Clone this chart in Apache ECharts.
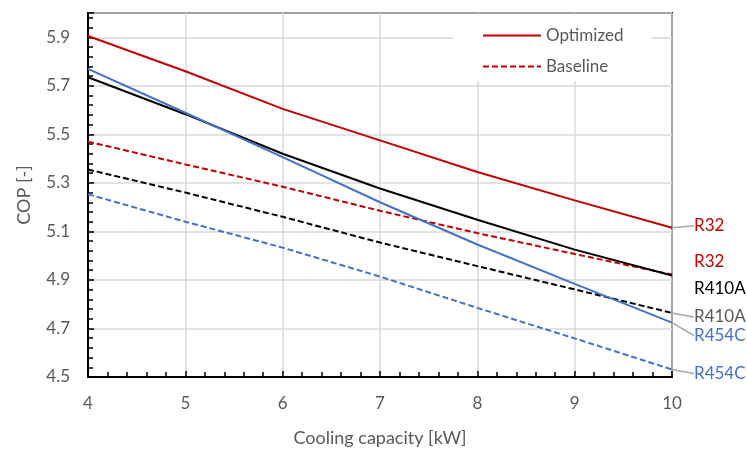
<!DOCTYPE html>
<html><head><meta charset="utf-8">
<script src="https://cdn.jsdelivr.net/npm/echarts@6/dist/echarts.min.js"></script>
<style>html,body{margin:0;padding:0;background:#fff}#c{width:747px;height:452px}</style>
</head><body><div id="c"></div>
<script>
// ---- data ----
const xValues = [4, 5, 6, 7, 8, 9, 10];
const optR32   = [5.905, 5.760, 5.605, 5.475, 5.345, 5.228, 5.115];
const optR410A = [5.735, 5.583, 5.420, 5.277, 5.148, 5.025, 4.918];
const optR454C = [5.770, 5.589, 5.406, 5.220, 5.046, 4.884, 4.724];
const baseR32   = [5.470, 5.376, 5.284, 5.185, 5.093, 5.007, 4.922];
const baseR410A = [5.355, 5.260, 5.160, 5.054, 4.957, 4.861, 4.764];
const baseR454C = [5.253, 5.140, 5.033, 4.914, 4.785, 4.659, 4.531];
const legendNames = ['Optimized', 'Baseline'];
const endLabels = ['R32', 'R32', 'R410A', 'R410A', 'R454C', 'R454C'];

const FONT = 'Lato, "Open Sans", sans-serif';
const RED = '#C00000', BLACK = '#000000', BLUE = '#4472C4', GREY = '#595959';

function mkSeries(name, vals, color, dashed, label, labelColor, dy, guide, z) {
  const last = vals.length - 1;
  return {
    name: name,
    type: 'line',
    z: z,
    showSymbol: true,
    symbol: 'circle',
    symbolSize: 0,
    smooth: false,
    animation: false,
    lineStyle: { color: color, width: 2, type: dashed ? [6, 3] : 'solid' },
    itemStyle: { color: color },
    emphasis: { disabled: true },
    data: vals.map((v, i) => i === last ? {
      value: [xValues[i], v],
      label: {
        show: true, position: 'right', distance: 18, formatter: label,
        color: labelColor, fontSize: 17, fontFamily: FONT, padding: [0, 0, 0, 4]
      },
      labelLine: { show: guide, length2: 10, lineStyle: { color: '#A6A6A6', width: 1.5 } }
    } : [xValues[i], v]),
    labelLayout: { dy: dy },
    labelLine: { show: guide, length2: 10, lineStyle: { color: '#A6A6A6', width: 1.5 } }
  };
}

const chart = echarts.init(document.getElementById('c'), null, { renderer: 'canvas' });
chart.setOption({
  animation: false,
  grid: { left: 88, right: 75, top: 13, bottom: 71, show: true, borderColor: '#000', borderWidth: 2, backgroundColor: 'transparent' },
  legend: {
    data: legendNames,
    orient: 'vertical',
    left: 453, top: 15,
    backgroundColor: '#fff',
    padding: [12, 28, 6, 29],
    itemGap: 14,
    itemWidth: 58, itemHeight: 14,
    itemStyle: { opacity: 0, borderWidth: 0 },
    textStyle: { color: GREY, fontSize: 17, fontFamily: FONT },
    selectedMode: false
  },
  xAxis: {
    type: 'value', min: 4, max: 10, interval: 1,
    name: 'Cooling capacity [kW]', nameLocation: 'middle', nameGap: 52,
    nameTextStyle: { color: GREY, fontSize: 18, fontFamily: FONT },
    axisLine: { show: true, onZero: false, lineStyle: { color: '#000', width: 2 } },
    axisTick: { show: true, inside: true, length: 6, lineStyle: { color: '#000', width: 1.5 } },
    minorTick: { show: true, splitNumber: 5, length: 5, lineStyle: { color: '#000', width: 1.5 } },
    splitLine: { show: true, lineStyle: { color: '#D9D9D9', width: 1.5 } },
    axisLabel: { color: GREY, fontSize: 17, fontFamily: FONT, margin: 18 }
  },
  yAxis: {
    type: 'value', min: 4.5, max: 6.0, interval: 0.2,
    name: 'COP [-]', nameLocation: 'middle', nameGap: 55, nameRotate: 90,
    nameTextStyle: { color: GREY, fontSize: 18, fontFamily: FONT },
    axisLine: { show: true, onZero: false, lineStyle: { color: '#000', width: 2 } },
    axisTick: { show: true, inside: true, length: 6, lineStyle: { color: '#000', width: 1.5 } },
    minorTick: { show: true, splitNumber: 5, length: 5, lineStyle: { color: '#000', width: 1.5 } },
    splitLine: { show: true, lineStyle: { color: '#D9D9D9', width: 1.5 } },
    axisLabel: { color: GREY, fontSize: 17, fontFamily: FONT, margin: 18, showMaxLabel: false,
      formatter: v => v.toFixed(1) }
  },
  series: [
    mkSeries('Baseline', baseR32, RED, true, endLabels[1], RED, -13, false, 2),
    mkSeries('R410A Baseline', baseR410A, BLACK, true, endLabels[3], GREY, 4, true, 2),
    mkSeries('R454C Baseline', baseR454C, BLUE, true, endLabels[5], BLUE, 4, true, 2),
    mkSeries('Optimized', optR32, RED, false, endLabels[0], RED, -2, true, 3),
    mkSeries('R410A Optimized', optR410A, BLACK, false, endLabels[2], BLACK, 13, false, 3),
    mkSeries('R454C Optimized', optR454C, BLUE, false, endLabels[4], BLUE, 13, true, 3)
  ]
});
</script></body></html>
